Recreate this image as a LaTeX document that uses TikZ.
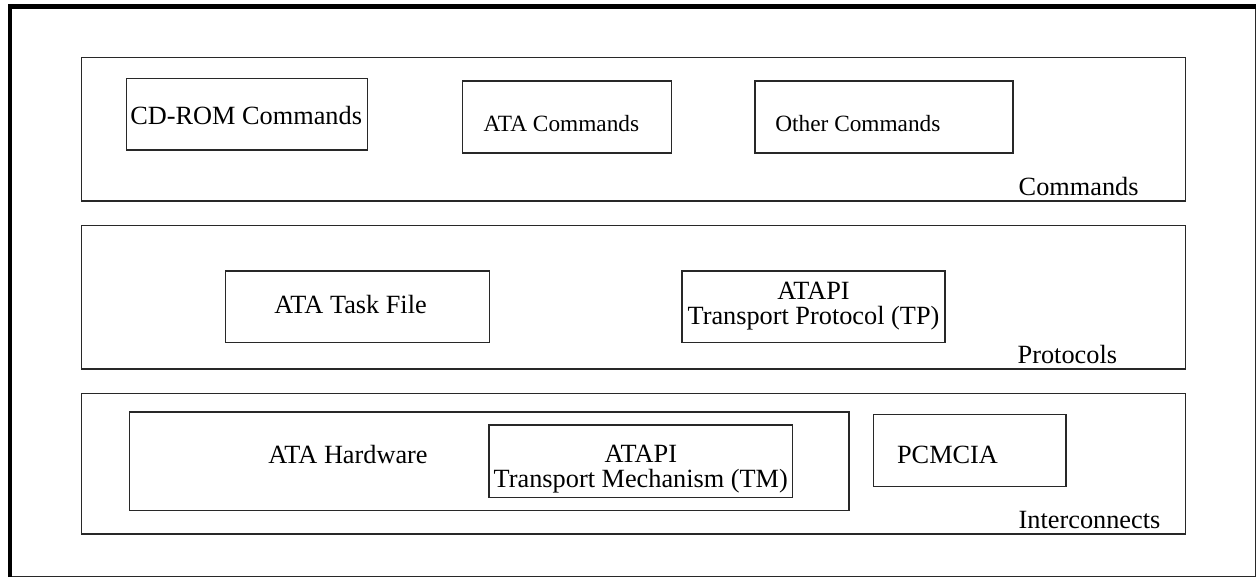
\documentclass[tikz,border=0pt]{standalone}
\usepackage{fontspec}
\setmainfont{Liberation Serif}

\begin{document}
\begin{tikzpicture}[x=0.5pt, y=-0.5pt,
  box/.style={line width=0.6pt, draw=linegray},
  label/.style={anchor=base west, inner sep=0pt, font=\fontsize{13.15}{11.5}\selectfont},
  smalllabel/.style={anchor=base west, inner sep=0pt, font=\fontsize{11.65}{11.5}\selectfont},
  twoline/.style={anchor=base, inner sep=0pt, align=center, font=\fontsize{13.15}{12.2}\selectfont}]

\definecolor{linegray}{RGB}{40,40,40}
\useasboundingbox (0,0) rectangle (1257,578);

% outer frame
\draw[line width=0.6pt, linegray] (10,6.5) -- (1255.5,6.5) -- (1255.5,576.5) -- (10,576.5);
\draw[line width=2.2pt] (10,577) -- (10,6.5) -- (1256,6.5);

% commands layer
\draw[box] (81.7,57.3) rectangle (1185.7,201);
\draw[box] (126.7,78.3) rectangle (367.7,150);
\draw[box] (462.3,81) rectangle (671.7,153);
\draw[box] (755,81) rectangle (1013,153);

\node[label] (cdrom) at (130,124.3) {CD-ROM Commands};
\node[smalllabel] (atacmd) at (483.3,131) {ATA Commands};
\node[smalllabel] (othercmd) at (775,131) {Other Commands};
\node[label] (cmdlayer) at (1018.3,195) {Commands};

% protocols layer
\draw[box] (81.7,225.7) rectangle (1185.7,369);
\draw[box] (225.7,271) rectangle (489.3,342.3);
\draw[box] (682,271) rectangle (945,342.3);

\node[label] (taskfile) at (274,313.3) {ATA Task File};
\node[twoline] (atapitp) at (813.5,324) {ATAPI\\Transport Protocol (TP)};
\node[label] (protlayer) at (1017.3,363.3) {Protocols};

% interconnects layer
\draw[box] (81.7,393.3) rectangle (1185.7,534);
\draw[box] (129.3,412) rectangle (849,510.7);
\draw[box] (489,425) rectangle (792.7,497.3);
\draw[box] (873.3,414.3) rectangle (1066,486.7);

\node[label] (atahw) at (268,463.3) {ATA Hardware};
\node[twoline] (atapitm) at (640.8,487) {ATAPI\\Transport Mechanism (TM)};
\node[label] (pcmcia) at (896.7,463.3) {PCMCIA};
\node[label] (intlayer) at (1018.3,528.3) {Interconnects};

\end{tikzpicture}
\end{document}
